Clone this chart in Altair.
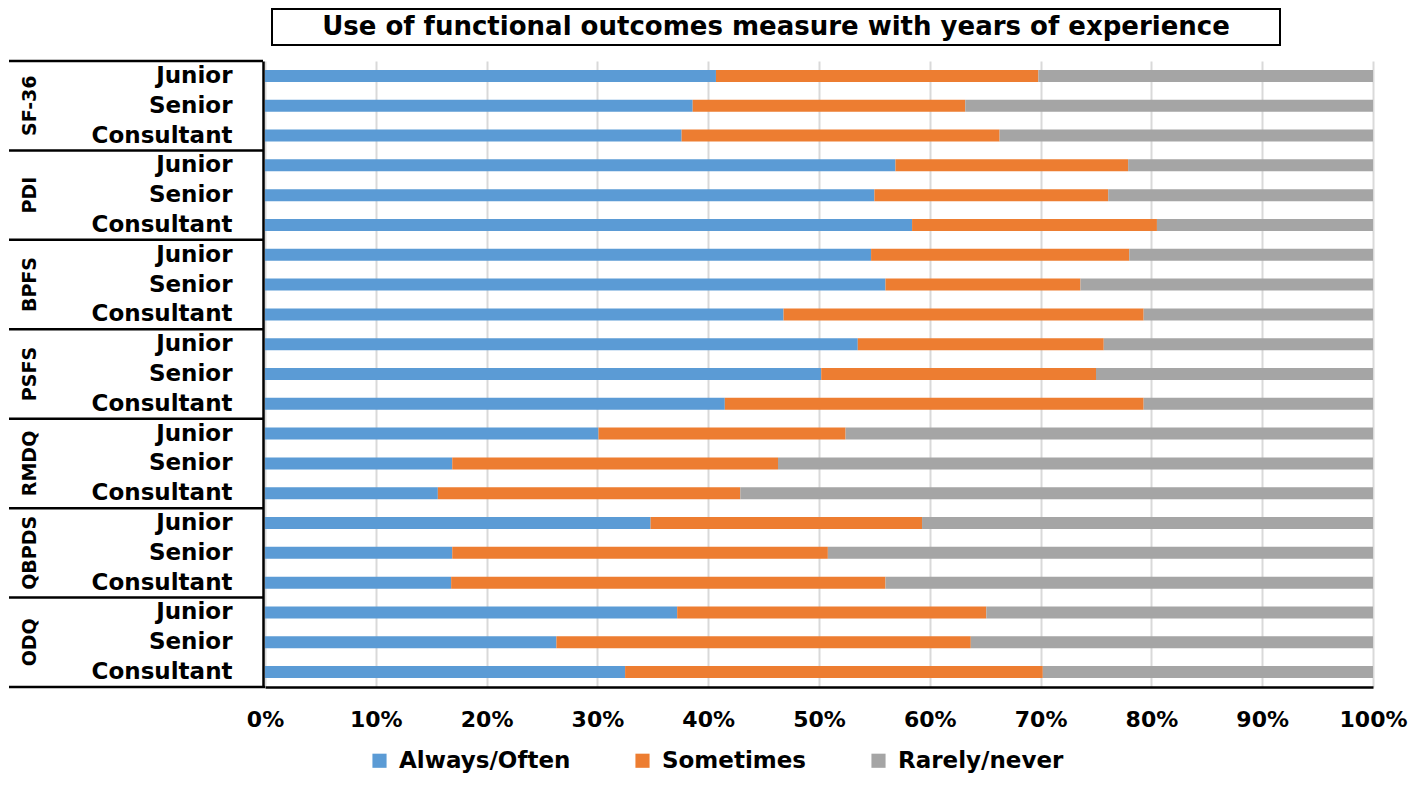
import altair as alt
import pandas as pd

FONT = "DejaVu Sans"

title_text = "Use of functional outcomes measure with years of experience"
measures = ["SF-36", "PDI", "BPFS", "PSFS", "RMDQ", "QBPDS", "ODQ"]
levels = ["Junior", "Senior", "Consultant"]
responses = ["Always/Often", "Sometimes", "Rarely/never"]
colors = ["#5B9BD5", "#ED7D31", "#A5A5A5"]
x_ticks = [0, 10, 20, 30, 40, 50, 60, 70, 80, 90, 100]

# percentages, rows in order: each measure x (Junior, Senior, Consultant)
always = [40.7, 38.6, 37.6,
          56.9, 55.0, 58.4,
          54.7, 56.0, 46.8,
          53.5, 50.2, 41.5,
          30.1, 16.9, 15.6,
          34.8, 16.9, 16.8,
          37.2, 26.3, 32.5]
sometimes = [29.1, 24.6, 28.7,
             21.0, 21.1, 22.1,
             23.3, 17.6, 32.5,
             22.2, 24.8, 37.8,
             22.3, 29.4, 27.3,
             24.5, 33.9, 39.2,
             27.9, 37.4, 37.7]
rarely = [30.2, 36.8, 33.7,
          22.1, 23.9, 19.5,
          22.0, 26.4, 20.7,
          24.3, 25.0, 20.7,
          47.6, 53.7, 57.1,
          40.7, 49.2, 44.0,
          34.9, 36.3, 29.8]

keys = [m + "|" + l for m in measures for l in levels]
series = [always, sometimes, rarely]

rows = []
for i, k in enumerate(keys):
    for j, r in enumerate(responses):
        rows.append({"key": k, "response": r, "value": series[j][i], "ord": j})
df = pd.DataFrame(rows)

bars = alt.Chart(df).mark_bar(size=12).encode(
    x=alt.X(
        "value:Q",
        stack="zero",
        scale=alt.Scale(domain=[0, 100], nice=False),
        axis=alt.Axis(
            values=x_ticks,
            labelExpr="datum.value + '%'",
            title=None,
            grid=True,
            gridColor="#D9D9D9",
            gridWidth=2,
            domainColor="black",
            domainWidth=2.5,
            ticks=False,
            tickSize=0,
            labelPadding=22,
            labelFont=FONT,
            labelFontSize=22,
            labelFontWeight="bold",
            labelColor="black",
            labelFlush=False,
        ),
    ),
    y=alt.Y(
        "key:N",
        sort=keys,
        title=None,
        scale=alt.Scale(type="band", paddingInner=0, paddingOuter=0),
        axis=alt.Axis(
            title=None,
            labelExpr="split(datum.label, '|')[1]",
            ticks=False,
            tickSize=0,
            labelPadding=31,
            offset=2,
            domainColor="black",
            domainWidth=2.5,
            grid=False,
            labelFont=FONT,
            labelFontSize=23,
            labelFontWeight="bold",
            labelColor="black",
            labelAlign="right",
        ),
    ),
    color=alt.Color(
        "response:N",
        scale=alt.Scale(domain=responses, range=colors),
        legend=alt.Legend(
            title=None,
            orient="none",
            legendX=103,
            legendY=688,
            direction="horizontal",
            symbolType="square",
            symbolSize=200,
            symbolStrokeWidth=0,
            labelFont=FONT,
            labelFontSize=23,
            labelFontWeight="bold",
            labelColor="black",
            labelOffset=8,
            labelLimit=400,
            columnPadding=60,
        ),
    ),
    order=alt.Order("ord:Q"),
)

sep_df = pd.DataFrame({"key": [m + "|" + levels[0] for m in measures]})
seps = alt.Chart(sep_df).mark_rule(color="black", strokeWidth=2.5).encode(
    x=alt.value(-256),
    x2=alt.value(-2),
    y=alt.Y("key:N", sort=keys, title=None, bandPosition=0),
)

bottom_df = pd.DataFrame({"key": [keys[-1]]})
bottom = alt.Chart(bottom_df).mark_rule(color="black", strokeWidth=2.5).encode(
    x=alt.value(-256),
    x2=alt.value(0),
    y=alt.Y("key:N", sort=keys, title=None, bandPosition=1),
)

grp_df = pd.DataFrame({"key": [m + "|" + levels[1] for m in measures], "measure": measures})
glabels = alt.Chart(grp_df).mark_text(
    angle=270, font=FONT, fontSize=19, fontWeight="bold", color="black",
    align="center", baseline="middle",
).encode(
    x=alt.value(-235),
    y=alt.Y("key:N", sort=keys, title=None, bandPosition=0.5),
    text="measure:N",
)

tdf = pd.DataFrame({"t": [title_text]})
box = alt.Chart(tdf).mark_rect(fill="white", stroke="black", strokeWidth=2).encode(
    x=alt.value(7), x2=alt.value(1015), y=alt.value(-52), y2=alt.value(-16)
)
ttl = alt.Chart(tdf).mark_text(
    font=FONT, fontSize=26, fontWeight="bold", color="black",
    align="center", baseline="middle",
).encode(x=alt.value(511), y=alt.value(-34), text="t:N")

chart = alt.layer(bars, seps, bottom, glabels, box, ttl).properties(
    width=1108,
    height=626,
    padding={"left": 257, "top": 53, "right": 35, "bottom": 91},
    autosize=alt.AutoSizeParams(type="none"),
).configure_view(stroke=None)

chart.save("out.html", embed_options={"renderer": "svg", "actions": False})
